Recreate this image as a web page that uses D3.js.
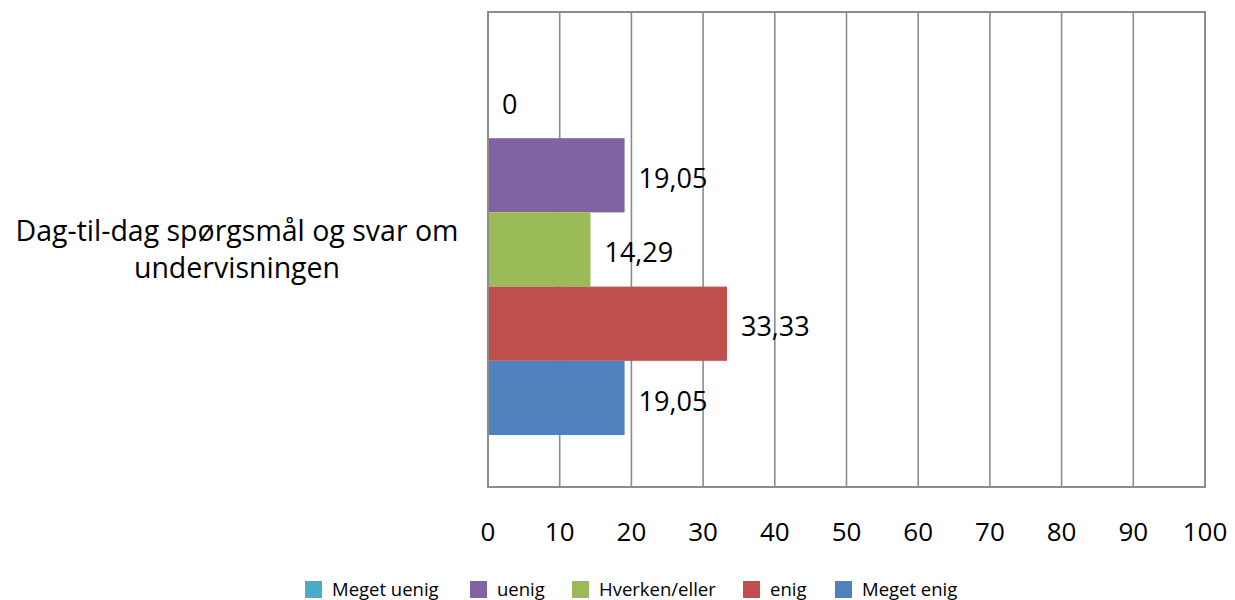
<!DOCTYPE html>
<html><head><meta charset="utf-8">
<script src="https://cdn.jsdelivr.net/npm/d3@7"></script>
<style>body{margin:0;background:#fff;} text{font-family:"Open Sans",sans-serif;fill:#000;}</style>
</head><body>
<svg id="c" width="1235" height="600"></svg>
<script>
const categories = ["Dag-til-dag spørgsmål og svar om undervisningen"];
const categoryLines = ["Dag-til-dag spørgsmål og svar om", "undervisningen"];
const seriesNames = ["Meget uenig", "uenig", "Hverken/eller", "enig", "Meget enig"];
const seriesValues = [0, 19.05, 14.29, 33.33, 19.05];
const seriesLabels = ["0", "19,05", "14,29", "33,33", "19,05"];
const seriesColors = ["#4bacc6", "#8064a2", "#9bbb59", "#c0504d", "#4f81bd"];
const xTicks = [0,10,20,30,40,50,60,70,80,90,100];

const svg = d3.select("#c");
const L = 488, R = 1205, T = 12, B = 487;
const x = d3.scaleLinear().domain([0,100]).range([L,R]);
const yCat = d3.scaleBand().domain(categories).range([T,B]).paddingInner(0).paddingOuter(0.14);
const ySer = d3.scaleBand().domain(seriesNames).range([0, yCat.bandwidth()]);

// gridlines
svg.append("g").selectAll("line").data(xTicks).join("line")
  .attr("x1", d=>x(d)).attr("x2", d=>x(d)).attr("y1", T).attr("y2", B)
  .attr("stroke", "#8c8c8c").attr("stroke-width", 1.6);
// border
svg.append("rect").attr("x", L).attr("y", T).attr("width", R-L).attr("height", B-T)
  .attr("fill", "none").attr("stroke", "#8c8c8c").attr("stroke-width", 2);

const data = seriesNames.map((s,i)=>({s, v: seriesValues[i], lab: seriesLabels[i], c: seriesColors[i]}));
const g = svg.append("g");
g.selectAll("rect").data(data).join("rect")
  .attr("x", x(0)+1).attr("y", d=>yCat(categories[0]) + ySer(d.s))
  .attr("width", d=>Math.max(0, x(d.v)-x(0)-1)).attr("height", ySer.bandwidth())
  .attr("fill", d=>d.c);
g.selectAll("text").data(data).join("text")
  .attr("x", d=>x(d.v)+14).attr("y", d=>yCat(categories[0]) + ySer(d.s) + ySer.bandwidth()/2 + 3)
  .attr("dy", "0.36em").attr("font-size", 27).text(d=>d.lab);

// x axis labels
svg.append("g").selectAll("text").data(xTicks).join("text")
  .attr("x", d=>x(d)).attr("y", 532).attr("dy","0.36em").attr("text-anchor","middle")
  .attr("font-size", 26).text(d=>d);

// category label
svg.append("text").attr("text-anchor","middle").attr("font-size", 28.5)
  .selectAll("tspan").data(categoryLines).join("tspan")
  .attr("x", 237).attr("y", (d,i)=>241 + i*37).text(d=>d);

// legend
const legX = [305, 470, 572, 743, 835];
const leg = svg.append("g").selectAll("g").data(data).join("g")
  .attr("transform", (d,i)=>`translate(${legX[i]},589)`);
leg.append("rect").attr("x",0).attr("y",-8).attr("width",17).attr("height",17).attr("fill", d=>d.c);
leg.append("text").attr("x", 27).attr("y", 0).attr("dy","0.36em").attr("font-size", 18.5).text(d=>d.s);
</script>
</body></html>
